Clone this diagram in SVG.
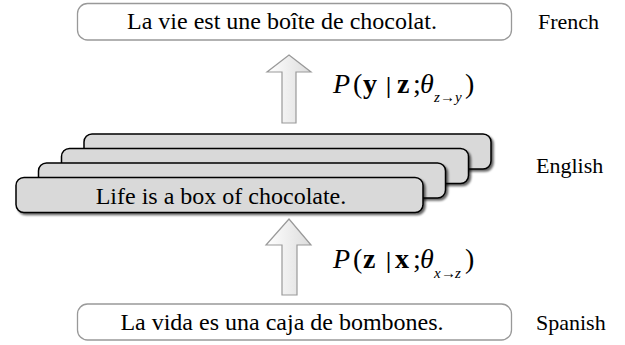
<svg xmlns="http://www.w3.org/2000/svg" width="625" height="345" viewBox="0 0 625 345">
<style>
text{font-family:"Liberation Serif","Times New Roman",serif;fill:#000}
.lbl{font-size:22px}
.sent{font-size:24px;text-anchor:middle}
.plain{fill:#fff;stroke:#999;stroke-width:1.3}
.stack{fill:#d9d9d9;stroke:#000;stroke-width:1.5}
.arrow{fill:url(#ag);stroke:#999;stroke-width:1.2}
.m{font-size:28px}
.it{font-style:italic}
.b{font-weight:bold}
.bar{font-weight:bold;font-size:23px}
.sub{font-size:15px;font-style:italic}
.ar{font-style:normal}
</style>
<defs>
<linearGradient id="ag" x1="0" y1="0" x2="1" y2="0">
<stop offset="0" stop-color="#ffffff"/>
<stop offset="1" stop-color="#dcdcdc"/>
</linearGradient>
<filter id="sh" x="-5%" y="-20%" width="110%" height="150%">
<feDropShadow dx="2" dy="2" stdDeviation="1" flood-color="#000" flood-opacity="0.6"/>
</filter>
</defs>

<g id="french">
<rect class="plain" x="77.5" y="3.5" width="434" height="36.5" rx="10"/>
<text class="sent" x="282" y="29">La vie est une boîte de chocolat.</text>
</g>

<g id="english">
<rect class="stack" filter="url(#sh)" x="84" y="134" width="407" height="35" rx="8"/>
<rect class="stack" filter="url(#sh)" x="61.5" y="148.5" width="407" height="35" rx="8"/>
<rect class="stack" filter="url(#sh)" x="38.5" y="163" width="407" height="35" rx="8"/>
<rect class="stack" filter="url(#sh)" x="16" y="177.5" width="407" height="35" rx="8"/>
<text class="sent" x="221" y="204">Life is a box of chocolate.</text>
</g>

<g id="spanish">
<rect class="plain" x="77.5" y="304" width="434" height="36" rx="10"/>
<text class="sent" x="282" y="330">La vida es una caja de bombones.</text>
</g>

<g id="connectors">
<polygon class="arrow" points="289,55 311,72 296,72 296,123 282,123 282,72 267,72"/>
<polygon class="arrow" points="289,219 311,245 297,245 297,295 282,295 282,245 266,245"/>
</g>

<g id="label-zy">
<text class="m"><tspan class="it" x="333" y="93">P</tspan><tspan x="353" y="93">(</tspan><tspan class="b" x="363" y="93">y</tspan><tspan class="bar" x="386" y="93">|</tspan><tspan class="b" x="397" y="93">z</tspan><tspan x="413" y="93">;</tspan><tspan class="it" x="420" y="93">θ</tspan><tspan class="sub" x="434" y="102">z</tspan><tspan class="sub ar" x="440" y="102">→</tspan><tspan class="sub" x="455" y="102">y</tspan><tspan x="465" y="93">)</tspan></text>
</g>

<g id="label-xz">
<text class="m"><tspan class="it" x="333" y="268">P</tspan><tspan x="353" y="268">(</tspan><tspan class="b" x="363" y="268">z</tspan><tspan class="bar" x="386" y="268">|</tspan><tspan class="b" x="395" y="268">x</tspan><tspan x="413" y="268">;</tspan><tspan class="it" x="420" y="268">θ</tspan><tspan class="sub" x="434" y="278">x</tspan><tspan class="sub ar" x="441" y="278">→</tspan><tspan class="sub" x="455" y="278">z</tspan><tspan x="465" y="268">)</tspan></text>
</g>

<g id="side-labels">
<text class="lbl" x="538" y="29">French</text>
<text class="lbl" x="536" y="173">English</text>
<text class="lbl" x="536" y="330">Spanish</text>
</g>
</svg>
